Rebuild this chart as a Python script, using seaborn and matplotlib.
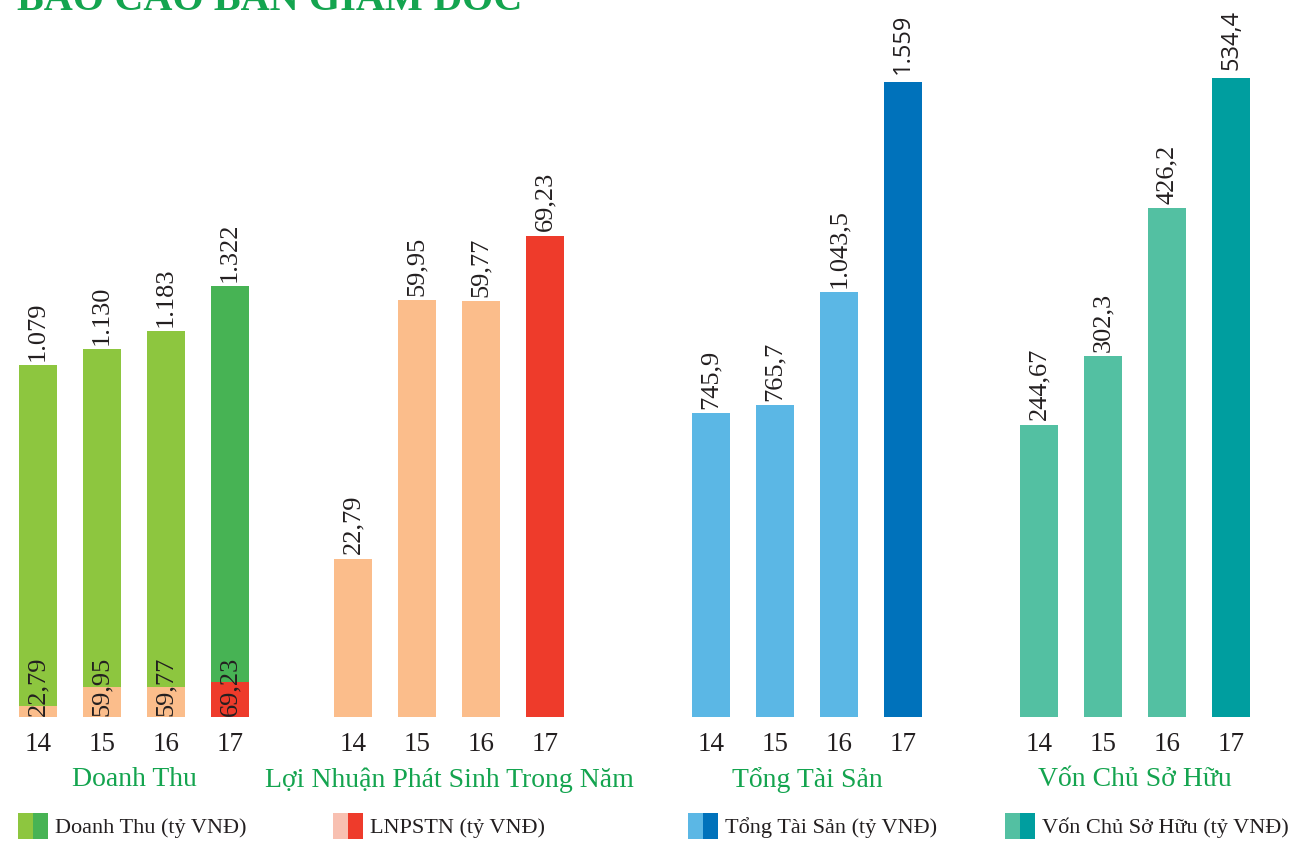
import matplotlib
matplotlib.use("Agg")
import matplotlib.pyplot as plt
import seaborn as sns
import pandas as pd
from matplotlib.patches import Patch
from matplotlib.legend_handler import HandlerTuple

# ---------------- data ----------------
years = ["14", "15", "16", "17"]
doanh_thu = [1079, 1130, 1183, 1322]          # tỷ VNĐ
lnpstn = [22.79, 59.95, 59.77, 69.23]          # tỷ VNĐ
tong_tai_san = [745.9, 765.7, 1043.5, 1559]    # tỷ VNĐ
von_chu_so_huu = [244.67, 302.3, 426.2, 534.4] # tỷ VNĐ

group_titles = ["Doanh Thu", "Lợi Nhuận Phát Sinh Trong Năm", "Tổng Tài Sản", "Vốn Chủ Sở Hữu"]
legend_labels = ["Doanh Thu (tỷ VNĐ)", "LNPSTN (tỷ VNĐ)", "Tổng Tài Sản (tỷ VNĐ)", "Vốn Chủ Sở Hữu (tỷ VNĐ)"]
main_title = "BÁO CÁO BAN GIÁM ĐỐC"

# ---------------- style ----------------
sns.set_style("white")
plt.rcParams["font.family"] = ["Liberation Serif", "DejaVu Serif"]

W, H = 1312, 843
fig = plt.figure(figsize=(W / 100, H / 100), dpi=100)

GREEN_TXT = "#14a44f"
colors = [
    ("#8dc63f", "#47b354"),
    ("#fbbd8b", "#ee3b2b"),
    ("#5bb7e5", "#0072bb"),
    ("#53c0a2", "#009e9f"),
]
legend_light = ["#8dc63f", "#f8c0b1", "#5bb7e5", "#53c0a2"]
ymax = [2200, 103.1, 1760, 600]
axes_left_px = [6, 321, 679, 1007]
legend_x_px = [18, 333, 688, 1005]
series = [doanh_thu, lnpstn, tong_tai_san, von_chu_so_huu]
sans_last = [False, False, True, True]

baseline_px = 717
bottom = (H - baseline_px) / H
height = baseline_px / H
width = 256 / W


def fmt(v):
    s = f"{v:,.2f}"
    if "." in s:
        s = s.rstrip("0").rstrip(".")
    return s.replace(",", "#").replace(".", ",").replace("#", ".")


def bars(ax, vals, light, dark, top):
    df = pd.DataFrame({"year": years, "value": vals})
    pal = {y: (dark if i == len(years) - 1 else light) for i, y in enumerate(years)}
    sns.barplot(data=df, x="year", y="value", hue="year", palette=pal,
                legend=False, width=0.6, saturation=1, linewidth=0, ax=ax)
    ax.set_ylim(0, top)
    ax.set_xlim(-0.5, 3.5)
    return df


for k in range(4):
    ax = fig.add_axes([axes_left_px[k] / W, bottom, width, height])
    light, dark = colors[k]
    vals = series[k]
    bars(ax, vals, light, dark, ymax[k])
    for i, v in enumerate(vals):
        use_sans = sans_last[k] and i == len(vals) - 1
        ax.annotate(fmt(v), xy=(i, v), xytext=(0, 3 if not use_sans else 6),
                    textcoords="offset points", rotation=90, ha="center", va="bottom",
                    fontsize=17 if use_sans else 19, color="#231f20",
                    family=["Open Sans", "DejaVu Sans"] if use_sans else None)
    ax.set_xlabel("")
    ax.set_ylabel("")
    ax.set_yticks([])
    ax.tick_params(axis="x", length=0, pad=11, labelsize=19.5, labelcolor="#231f20")
    sns.despine(ax=ax, left=True, bottom=True)
    ax.patch.set_alpha(0)

    # group title
    ax.text(0.5, -(780 - baseline_px) / baseline_px, group_titles[k], transform=ax.transAxes,
            ha="center", va="center", fontsize=20, color=GREEN_TXT)

    if k == 0:
        # LNPSTN bars overlaid at the bottom of the revenue bars
        ax2 = ax.twinx()
        bars(ax2, lnpstn, colors[1][0], colors[1][1], 1434)
        for i, v in enumerate(lnpstn):
            ax2.annotate(fmt(v), xy=(i, 0), xytext=(0, 1), textcoords="offset points",
                         rotation=90, ha="center", va="bottom", fontsize=19, color="#231f20")
        ax2.set_ylabel("")
        ax2.set_yticks([])
        ax2.tick_params(axis="x", length=0)
        sns.despine(ax=ax2, left=True, bottom=True, right=True)
        ax2.patch.set_alpha(0)

    # legend
    handle = (Patch(facecolor=legend_light[k], edgecolor="none"),
              Patch(facecolor=dark, edgecolor="none"))
    ax.legend([handle], [legend_labels[k]],
              handler_map={tuple: HandlerTuple(ndivide=None, pad=0)},
              loc="center left", bbox_to_anchor=(legend_x_px[k] / W, 1 - 826 / H),
              bbox_transform=fig.transFigure, frameon=False, borderpad=0,
              borderaxespad=0, handlelength=1.35, handleheight=1.45,
              handletextpad=0.3, prop={"size": 16}, labelcolor="#231f20")

fig.text(17 / W, 1 - 10 / H, main_title, ha="left", va="baseline",
         fontsize=29, fontweight="bold", color=GREEN_TXT)

fig.savefig("out.png", dpi=100)
